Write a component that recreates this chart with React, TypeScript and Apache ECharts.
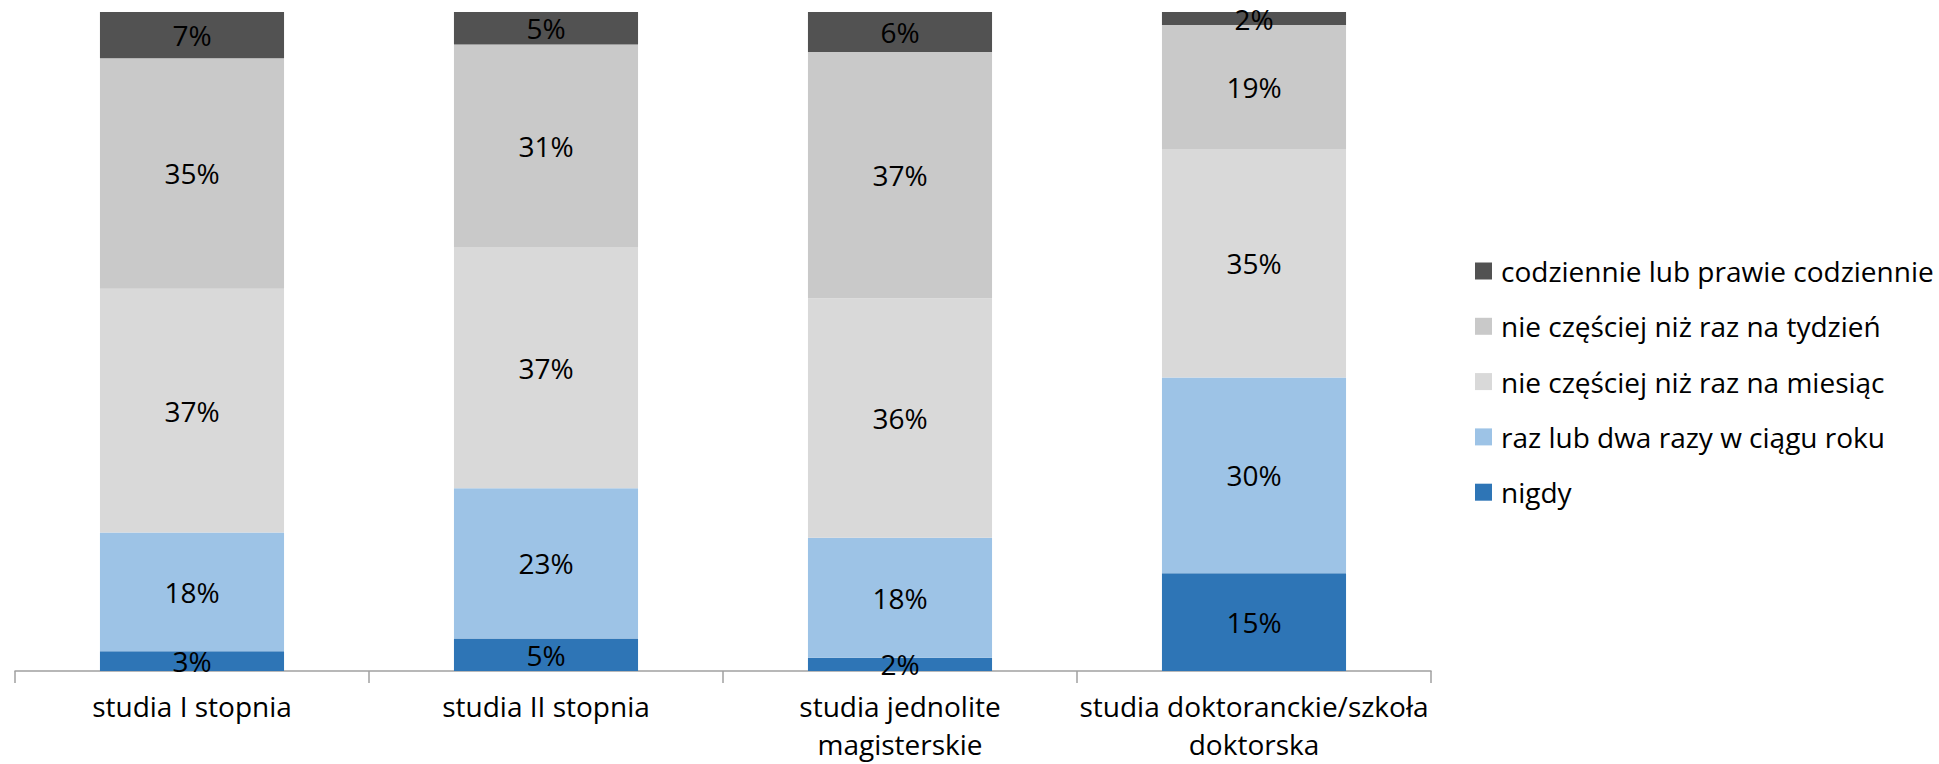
import React, { useEffect, useRef } from "react";
import * as echarts from "echarts";

const categories = [
  "studia I stopnia",
  "studia II stopnia",
  "studia jednolite\nmagisterskie",
  "studia doktoranckie/szkoła\ndoktorska",
];
const nigdy = [3, 5, 2, 15];
const razLubDwa = [18, 23, 18, 30];
const miesiac = [37, 37, 36, 35];
const tydzien = [35, 31, 37, 19];
const codziennie = [7, 5, 6, 2];

const seriesNames = [
  "nigdy",
  "raz lub dwa razy w ciągu roku",
  "nie częściej niż raz na miesiąc",
  "nie częściej niż raz na tydzień",
  "codziennie lub prawie codziennie",
];
const seriesValues = [nigdy, razLubDwa, miesiac, tydzien, codziennie];
const seriesColors = ["#2e75b6", "#9dc3e6", "#d9d9d9", "#c9c9c9", "#525252"];

const FONT = "'Open Sans', 'Noto Sans', sans-serif";

export default function App() {
  const ref = useRef<HTMLDivElement>(null);
  useEffect(() => {
    if (!ref.current) return;
    const chart = echarts.init(ref.current, undefined, { renderer: "svg" });
    const totals = categories.map((_, i) =>
      seriesValues.reduce((s, arr) => s + arr[i], 0)
    );
    chart.setOption({
      animation: false,
      backgroundColor: "#ffffff",
      textStyle: { fontFamily: FONT },
      grid: {
        left: 15,
        right: 508,
        top: 12,
        bottom: 93,
        containLabel: false,
        outerBoundsMode: "none",
      },
      legend: {
        orient: "vertical",
        left: 1470,
        top: 251,
        itemWidth: 17,
        itemHeight: 17,
        itemGap: 25.3,
        icon: "rect",
        data: [...seriesNames].reverse(),
        textStyle: {
          fontFamily: FONT,
          fontSize: 28,
          lineHeight: 30,
          color: "#000",
          padding: [0, 0, 0, 4],
        },
      },
      xAxis: {
        type: "category",
        data: categories,
        boundaryGap: true,
        axisLine: { lineStyle: { color: "#a0a0a0", width: 1.5 } },
        axisTick: {
          show: true,
          length: 12,
          lineStyle: { color: "#a0a0a0", width: 1.5 },
        },
        axisLabel: {
          fontFamily: FONT,
          fontSize: 28,
          lineHeight: 38.2,
          margin: 16,
          color: "#000",
          interval: 0,
        },
      },
      yAxis: { type: "value", min: 0, max: 100, show: false },
      series: seriesNames.map((name, si) => ({
        name,
        type: "bar",
        stack: "total",
        barCategoryGap: "48%",
        itemStyle: { color: seriesColors[si] },
        label: {
          show: true,
          position: "inside",
          fontFamily: FONT,
          fontSize: 28,
          color: "#000",
          formatter: (p: any) => `${p.data.raw}%`,
        },
        data: seriesValues[si].map((v, i) => ({
          value: (v / totals[i]) * 100,
          raw: v,
        })),
      })),
    });
    return () => chart.dispose();
  }, []);
  return (
    <div
      ref={ref}
      style={{ position: "fixed", left: 0, top: 0, width: 1939, height: 764 }}
    />
  );
}
